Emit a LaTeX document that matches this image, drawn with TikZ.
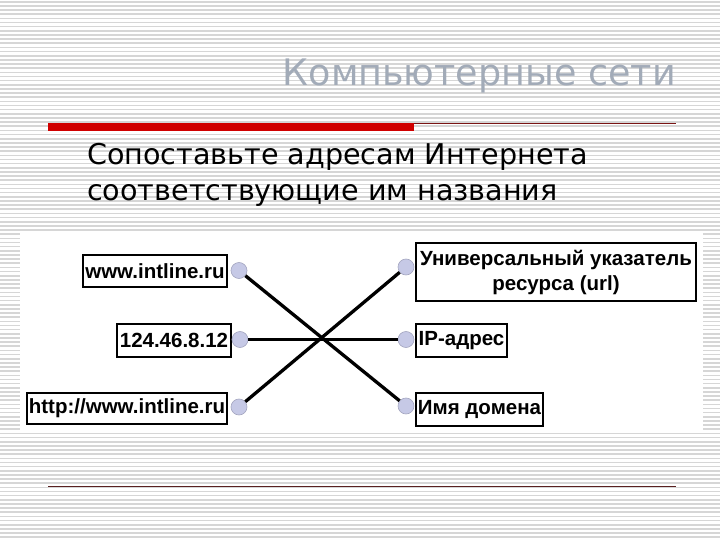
\documentclass[tikz,border=0pt]{standalone}
\usepackage{fontspec}
\newfontfamily\titlefont{DejaVu Sans}
\newfontfamily\boxfont{Liberation Sans}
\definecolor{stripe}{HTML}{D6D6D6}
\definecolor{titlegray}{HTML}{A2ABB8}
\definecolor{barred}{HTML}{D00000}
\definecolor{thinred}{HTML}{7A1515}
\definecolor{botline}{HTML}{5A2020}
\definecolor{dotfill}{HTML}{C6C9E6}
\definecolor{dotline}{HTML}{A4A6C0}
\begin{document}
\begin{tikzpicture}[x=1pt,y=-1pt,
  box/.style={draw=black, line width=1.3pt, fill=white, inner sep=0pt, align=center,
    font=\boxfont\bfseries\fontsize{20.5}{25}\selectfont},
  dot/.style={circle, draw=dotline, fill=dotfill, line width=0.6pt, minimum size=16pt, inner sep=0pt},
  link/.style={line width=3.3pt, black}]
\useasboundingbox (0,0) rectangle (720,540);
\fill[white] (0,0) rectangle (720,540);
\foreach \i in {0,...,130} {
  \fill[stripe] (0,{\i*4.15+1}) rectangle (720,{\i*4.15+2.6});
}
% title
\node[anchor=base east, inner sep=0pt, text=titlegray, font=\titlefont\fontsize{36.5}{44}\selectfont] (title) at (676,86) {Компьютерные сети};
% bars
\fill[barred] (48,123) rectangle (414,131.5);
\draw[thinred, line width=1pt] (414,123.5) -- (676,123.5);
\draw[botline, line width=1pt] (48,486.5) -- (676,486.5);
% body text
\node[anchor=base west, inner sep=0pt, font=\titlefont\fontsize{28.6}{35}\selectfont] (q1) at (87,165) {Сопоставьте адресам Интернета};
\node[anchor=base west, inner sep=0pt, font=\titlefont\fontsize{28.6}{35}\selectfont] (q2) at (87,201) {соответствующие им названия};
% diagram area
\fill[white] (20,233) rectangle (703,432);
% left boxes
\node[box, minimum width=144pt, minimum height=32pt] (l1) at (155,271) {www.intline.ru};
\node[box, minimum width=114pt, minimum height=33pt] (l2) at (174,340.5) {124.46.8.12};
\node[box, minimum width=200pt, minimum height=31pt] (l3) at (127,408.5) {http://www.intline.ru};
% right boxes
\node[box, minimum width=280pt, minimum height=58pt] (r1) at (556,272) {Универсальный указатель\\ресурса (url)};
\node[box, minimum width=91pt, minimum height=33pt] (r2) at (461.5,340.5) {IP-адрес};
\node[box, minimum width=127pt, minimum height=33pt] (r3) at (479.5,409.5) {Имя домена};
% dots
\node[dot] (l1c) at (239,270.5) {};
\node[dot] (l2c) at (240,339.5) {};
\node[dot] (l3c) at (239,407) {};
\node[dot] (r1c) at (406,267) {};
\node[dot] (r2c) at (406,339.5) {};
\node[dot] (r3c) at (406,406) {};
% links
\draw[link] (l1c) -- (r3c);
\draw[link] (l2c) -- (r2c);
\draw[link] (l3c) -- (r1c);
\end{tikzpicture}
\end{document}
